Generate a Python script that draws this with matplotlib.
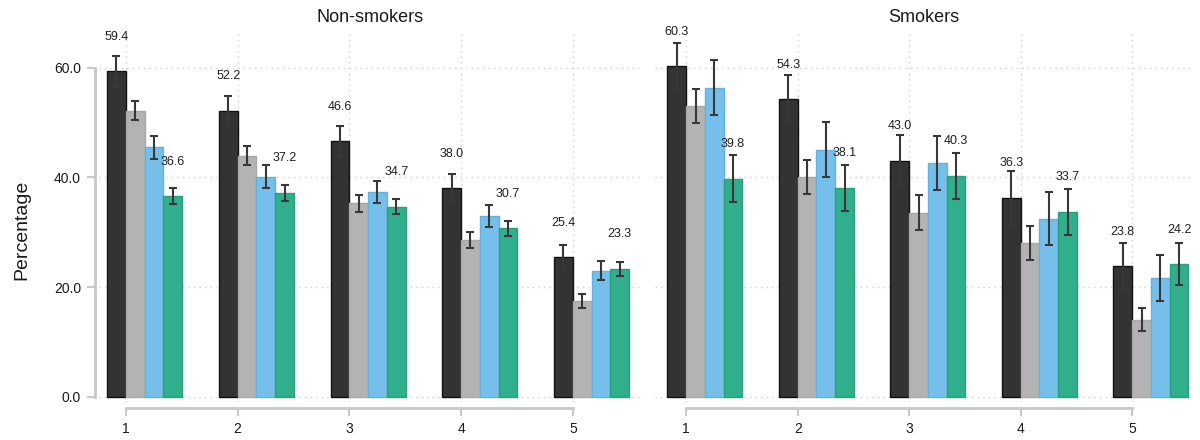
# Grouped bar chart with error bars - non-smokers vs smokers
import matplotlib
matplotlib.use("Agg")
import matplotlib.pyplot as plt
from matplotlib.ticker import FormatStrFormatter
import numpy as np

plt.rcParams['font.family'] = ['Liberation Sans', 'DejaVu Sans']

categories = [1, 2, 3, 4, 5]

# Non-smokers: four series (dark, grey, blue, green)
ns_dark = [59.4, 52.2, 46.6, 38.0, 25.4]
ns_grey = [52.2, 44.0, 35.3, 28.6, 17.5]
ns_blue = [45.5, 40.1, 37.3, 33.0, 23.0]
ns_green = [36.6, 37.2, 34.7, 30.7, 23.3]

ns_dark_err = [2.75, 2.7, 2.7, 2.6, 2.25]
ns_grey_err = [1.7, 1.65, 1.55, 1.5, 1.3]
ns_blue_err = [2.05, 2.1, 2.05, 2.0, 1.75]
ns_green_err = [1.4, 1.45, 1.4, 1.4, 1.25]

# Smokers
sm_dark = [60.3, 54.3, 43.0, 36.3, 23.8]
sm_grey = [53.0, 40.1, 33.6, 28.1, 14.0]
sm_blue = [56.4, 45.1, 42.7, 32.5, 21.7]
sm_green = [39.8, 38.1, 40.3, 33.7, 24.2]

sm_dark_err = [4.25, 4.4, 4.7, 4.8, 4.25]
sm_grey_err = [3.05, 3.15, 3.25, 3.1, 2.1]
sm_blue_err = [5.05, 4.95, 4.9, 4.9, 4.2]
sm_green_err = [4.25, 4.2, 4.2, 4.2, 3.85]

colors = ['#333333', '#b3b3b3', '#76bfea', '#31ae8b']
edges = ['#111111', '#a8a8a8', '#62b2e0', '#27a07e']
axis_grey = '#c8c8c8'

fig = plt.figure(figsize=(12, 4.4), dpi=100)
W, H = 1200, 440
bottom = (H - 402.2) / H
height = 370 / H
ax1 = fig.add_axes([99 / W, bottom, 542 / W, height])
ax2 = fig.add_axes([655 / W, bottom, 538 / W, height])

w = 0.168
x = np.array(categories)
offsets = [-0.5, 0.5, 1.5, 2.5]


def draw_panel(ax, series, errs, title, xlim):
    for k in range(4):
        xs = x + offsets[k] * w
        ax.bar(xs, series[k], width=w, color=colors[k], edgecolor=edges[k],
               linewidth=1, zorder=2)
        ax.errorbar(xs, series[k], yerr=errs[k], fmt='none', ecolor='#383838',
                    elinewidth=1.5, capsize=3, capthick=1.5, zorder=3)
        # only the first and last series get value labels
        if k in (0, 3):
            for xi, v in zip(xs, series[k]):
                ax.text(xi, v + 6.3, f'{v:.1f}', ha='center', va='center',
                        fontsize=9, color='#1e1e1e', zorder=4)

    ax.set_xlim(*xlim)
    ax.set_ylim(-1, 66.5)
    ax.set_xticks(categories)
    ax.set_yticks([0, 20, 40, 60])
    ax.yaxis.set_major_formatter(FormatStrFormatter('%.1f'))
    ax.grid(True, linestyle=(0, (1, 3)), color='#cfcfcf', linewidth=1, zorder=0)
    ax.set_axisbelow(True)

    for s in ['top', 'right']:
        ax.spines[s].set_visible(False)
    ax.spines['bottom'].set_position(('outward', 4.5))
    ax.spines['bottom'].set_bounds(1, 5)
    ax.spines['bottom'].set_color(axis_grey)
    ax.spines['bottom'].set_linewidth(2)
    ax.spines['left'].set_position(('outward', 3))
    ax.spines['left'].set_bounds(0, 60)
    ax.spines['left'].set_color(axis_grey)
    ax.spines['left'].set_linewidth(2)

    ax.tick_params(axis='both', color=axis_grey, width=1.5, length=6,
                   labelsize=10, labelcolor='#1a1a1a', pad=4)
    ax.set_title(title, fontsize=13, color='#1a1a1a', pad=7)


draw_panel(ax1, [ns_dark, ns_grey, ns_blue, ns_green],
           [ns_dark_err, ns_grey_err, ns_blue_err, ns_green_err],
           'Non-smokers', (0.76, 5.61))
draw_panel(ax2, [sm_dark, sm_grey, sm_blue, sm_green],
           [sm_dark_err, sm_grey_err, sm_blue_err, sm_green_err],
           'Smokers', (0.72, 5.545))

# right panel has no y axis
ax2.spines['left'].set_visible(False)
ax2.tick_params(axis='y', length=0, labelleft=False)

fig.text(22 / W, 1 - 230 / H, 'Percentage', rotation=90, ha='center',
         va='center', fontsize=14, color='#1a1a1a')

fig.savefig('out.png', dpi=100)
